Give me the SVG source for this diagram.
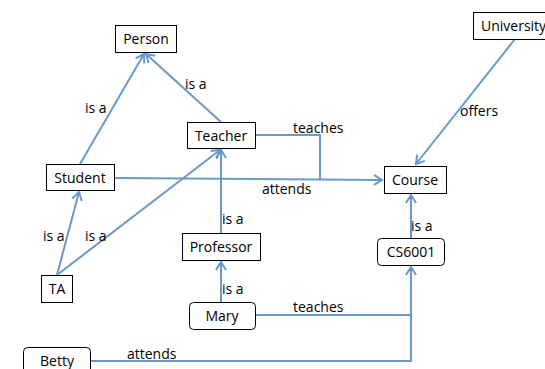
<svg xmlns="http://www.w3.org/2000/svg" width="545" height="369" viewBox="0 0 545 369">
<style>
.box{fill:#fff;stroke:#000;stroke-width:1}
.t{font-family:"Open Sans","Liberation Sans",sans-serif;font-size:14px;fill:#000}
.c{fill:none;stroke:#6a98cc;stroke-width:2}
</style>
<defs>
<marker id="a" viewBox="0 0 12 12" refX="10" refY="6" markerWidth="12" markerHeight="12" markerUnits="userSpaceOnUse" orient="auto">
<path d="M2,1 L10,6 L2,11" fill="none" stroke="#6a98cc" stroke-width="2"/>
</marker>
</defs>
<rect width="545" height="369" fill="#fff"/>
<g id="connectors">
<line class="c" x1="80" y1="164" x2="144" y2="54" marker-end="url(#a)"/>
<line class="c" x1="221" y1="122" x2="146" y2="54" marker-end="url(#a)"/>
<line class="c" x1="57" y1="275" x2="79" y2="192" marker-end="url(#a)"/>
<line class="c" x1="57" y1="275" x2="220" y2="150" marker-end="url(#a)"/>
<line class="c" x1="221" y1="233" x2="221" y2="150" marker-end="url(#a)"/>
<line class="c" x1="221" y1="302" x2="221" y2="262" marker-end="url(#a)"/>
<polyline class="c" points="255,135 320,135 320,179"/>
<line class="c" x1="114" y1="178" x2="382" y2="180" marker-end="url(#a)"/>
<line class="c" x1="515" y1="39" x2="416" y2="164" marker-end="url(#a)"/>
<line class="c" x1="411" y1="238" x2="411" y2="195" marker-end="url(#a)"/>
<polyline class="c" points="255,315 411,315 411,267" marker-end="url(#a)"/>
<polyline class="c" points="90,361 411,361 411,315"/>
</g>
<g id="person"><rect class="box" x="115.5" y="25.5" width="61" height="27"/><text class="t" x="146" y="44" text-anchor="middle">Person</text></g>
<g id="teacher"><rect class="box" x="187.5" y="122.5" width="68" height="26"/><text class="t" x="221" y="141" text-anchor="middle">Teacher</text></g>
<g id="student"><rect class="box" x="46.5" y="164.5" width="68" height="26"/><text class="t" x="80" y="183" text-anchor="middle">Student</text></g>
<g id="university"><rect class="box" x="473.5" y="12.5" width="80" height="27"/><text class="t" x="481" y="31">University</text></g>
<g id="course"><rect class="box" x="384.5" y="166.5" width="62" height="27"/><text class="t" x="415" y="185" text-anchor="middle">Course</text></g>
<g id="cs6001"><rect class="box" x="377.5" y="238.5" width="67" height="27" rx="4"/><text class="t" x="411" y="257" text-anchor="middle">CS6001</text></g>
<g id="professor"><rect class="box" x="182.5" y="233.5" width="78" height="27"/><text class="t" x="221" y="252" text-anchor="middle">Professor</text></g>
<g id="ta"><rect class="box" x="41.5" y="275.5" width="31" height="27"/><text class="t" x="57" y="294" text-anchor="middle">TA</text></g>
<g id="mary"><rect class="box" x="189.5" y="302.5" width="66" height="27" rx="4"/><text class="t" x="222" y="321" text-anchor="middle">Mary</text></g>
<g id="betty"><rect class="box" x="23.5" y="347.5" width="67" height="30" rx="4"/><text class="t" x="57" y="366" text-anchor="middle">Betty</text></g>
<g id="labels">
<text class="t" x="85" y="113">is a</text>
<text class="t" x="185" y="89">is a</text>
<text class="t" x="293" y="133">teaches</text>
<text class="t" x="460" y="116">offers</text>
<text class="t" x="262" y="194">attends</text>
<text class="t" x="43" y="241">is a</text>
<text class="t" x="85" y="241">is a</text>
<text class="t" x="222" y="224">is a</text>
<text class="t" x="222" y="294">is a</text>
<text class="t" x="411" y="231">is a</text>
<text class="t" x="293" y="312">teaches</text>
<text class="t" x="127" y="359">attends</text>
</g>
</svg>
